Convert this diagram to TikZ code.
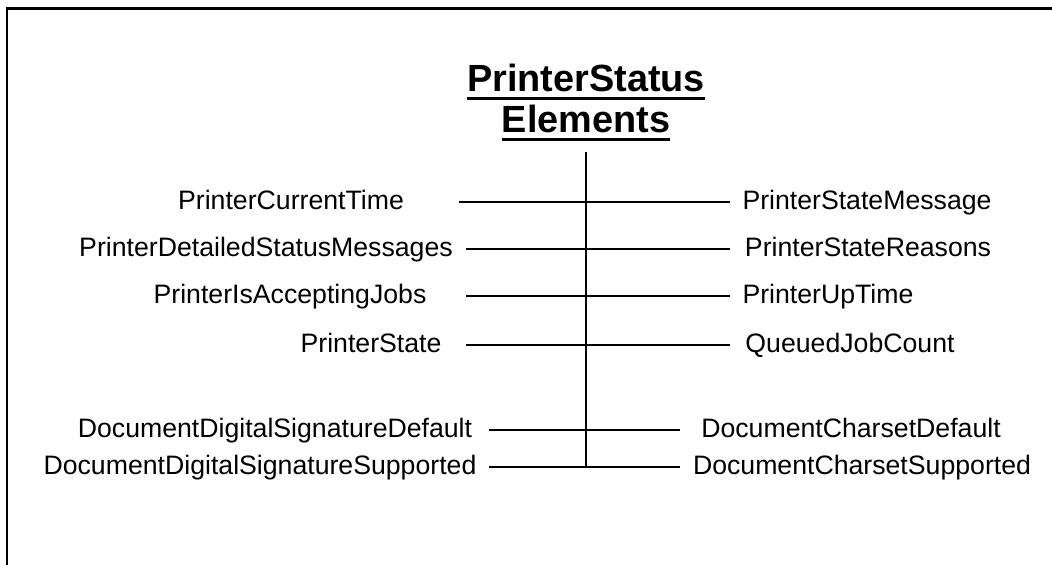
\documentclass[tikz,border=0pt]{standalone}
\usepackage{fontspec}
\setmainfont{Liberation Sans}
\begin{document}
\begin{tikzpicture}[x=0.75pt,y=-0.75pt,
  frame/.style={line width=2.2pt,line cap=rect},
  conn/.style={line width=1.5pt},
  lbl/.style={inner sep=0pt,anchor=base,font=\fontsize{20}{24}\selectfont},
  ttl/.style={inner sep=0pt,anchor=base,font=\fontsize{28.4}{34}\selectfont\bfseries},
  uline/.style={line width=2.2pt}]
\useasboundingbox (0,0) rectangle (1052,564);
% frame (cut at right and bottom)
\draw[frame] (7,580) -- (7,8.5) -- (1070,8.5);
% title
\node[ttl] (t1) at (586,91) {PrinterStatus};
\node[ttl] (t2) at (586,132) {Elements};
\draw[uline] ([yshift=-5.3pt]t1.base west) -- ([yshift=-5.3pt]t1.base east);
\draw[uline] ([yshift=-5.3pt]t2.base west) -- ([yshift=-5.3pt]t2.base east);
% trunk coordinates
\coordinate (top) at (586,152);
\coordinate (j1) at (586,202);
\coordinate (j2) at (586,249);
\coordinate (j3) at (586,296);
\coordinate (j4) at (586,345);
\coordinate (j5) at (586,430);
\coordinate (j6) at (586,467);
\coordinate (L1) at (459,202); \coordinate (R1) at (730,202);
\coordinate (L2) at (466,249); \coordinate (R2) at (730,249);
\coordinate (L3) at (466,296); \coordinate (R3) at (730,296);
\coordinate (L4) at (466,345); \coordinate (R4) at (730,345);
\coordinate (L5) at (489,430); \coordinate (R5) at (680,430);
\coordinate (L6) at (489,467); \coordinate (R6) at (680,467);
% labels left
\node[lbl] (a1) at (291,209.5) {PrinterCurrentTime};
\node[lbl] (a2) at (266,256.5) {PrinterDetailedStatusMessages};
\node[lbl] (a3) at (290,303.5) {PrinterIsAcceptingJobs};
\node[lbl] (a4) at (371,352.5) {PrinterState};
\node[lbl] (a5) at (275,437.5) {DocumentDigitalSignatureDefault};
\node[lbl] (a6) at (260,474.5) {DocumentDigitalSignatureSupported};
% labels right
\node[lbl] (b1) at (867,209.5) {PrinterStateMessage};
\node[lbl] (b2) at (868,256.5) {PrinterStateReasons};
\node[lbl] (b3) at (828,303.5) {PrinterUpTime};
\node[lbl] (b4) at (850,352.5) {QueuedJobCount};
\node[lbl] (b5) at (851,437.5) {DocumentCharsetDefault};
\node[lbl] (b6) at (862,474.5) {DocumentCharsetSupported};
% connectors
\draw[conn] (top) -- (j6);
\foreach \i in {1,...,6} {\draw[conn] (L\i) -- (j\i) -- (R\i);}
\end{tikzpicture}
\end{document}
